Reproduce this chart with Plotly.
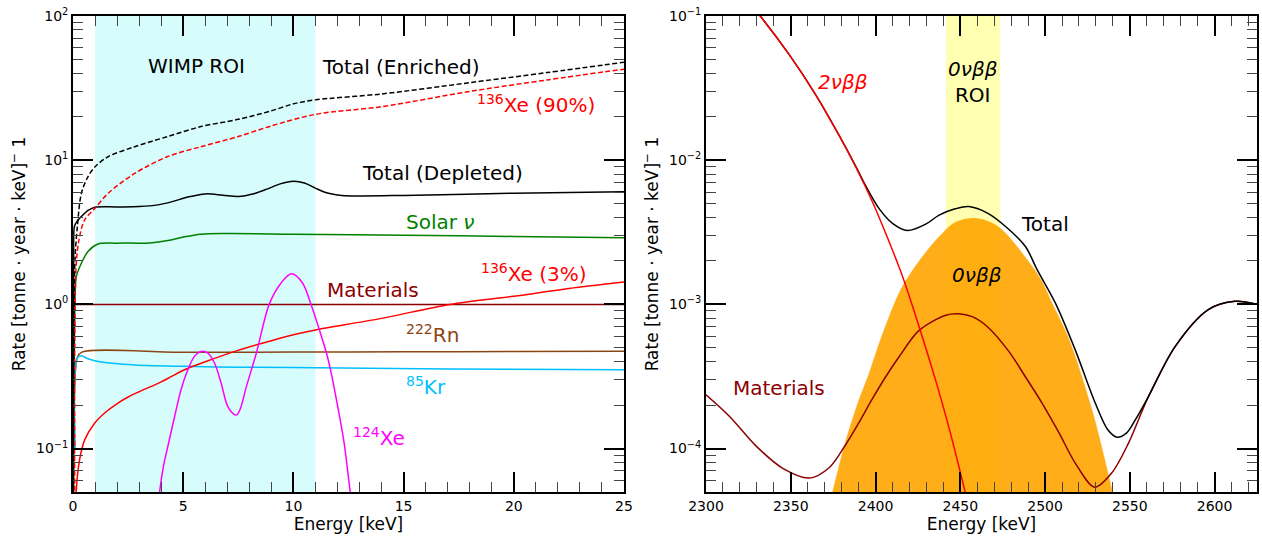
import math
import plotly.graph_objects as go

# ---------------- Left panel data (Energy in keV, rate in /tonne/year/keV) ----------------
wimp_roi = [1.0, 11.0]

enr_total_x = [0.0, 0.05, 0.1, 0.2, 0.38, 0.68, 1.0, 1.6, 2.8, 4.3, 5.8, 7.5, 9.0, 10.0, 11.0, 14.0, 18.0, 21.5, 25.0]
enr_total_y = [0.03, 1.0, 2.2, 3.5, 5.9, 7.7, 9.0, 10.6, 12.4, 14.6, 17.1, 19.2, 22.0, 24.6, 26.2, 28.8, 34.5, 40.5, 47.8]

xe136_90_x = [0.08, 0.15, 0.3, 0.53, 1.0, 1.6, 2.8, 4.3, 5.8, 7.5, 9.0, 11.0, 14.0, 18.0, 21.5, 25.0]
xe136_90_y = [0.04, 1.93, 2.96, 3.86, 4.65, 5.9, 8.1, 10.6, 12.4, 14.6, 17.3, 20.8, 23.5, 30.0, 36.0, 42.8]

dep_total_x = [0.0, 0.03, 0.07, 0.2, 0.38, 0.7, 1.0, 2.0, 3.0, 3.85, 4.5, 5.2, 6.0, 6.8, 7.5, 8.2, 8.8, 9.4, 10.0, 10.5, 11.0, 11.5, 12.2, 13.0, 15.0, 20.0, 25.0]
dep_total_y = [0.04, 2.0, 3.5, 3.8, 4.07, 4.5, 4.72, 4.74, 4.77, 4.9, 5.16, 5.55, 5.84, 5.72, 5.6, 5.85, 6.3, 6.85, 7.15, 6.95, 6.4, 5.95, 5.7, 5.65, 5.7, 5.9, 6.05]

solar_x = [0.03, 0.1, 0.15, 0.38, 0.68, 1.13, 2.0, 3.5, 4.3, 5.0, 5.8, 7.0, 10.0, 15.0, 20.0, 25.0]
solar_y = [0.04, 1.2, 1.56, 1.93, 2.33, 2.62, 2.66, 2.67, 2.77, 2.93, 3.07, 3.1, 3.07, 3.02, 2.96, 2.9]

materials_x = [0.0, 5.0, 10.0, 15.0, 20.0, 25.0]
materials_y = [1.0, 1.0, 1.0, 1.0, 1.0, 1.0]

xe136_3_x = [0.12, 0.15, 0.3, 0.53, 0.98, 1.5, 2.04, 2.5, 3.0, 3.55, 4.0, 4.5, 5.06, 6.0, 7.48, 9.0, 10.3, 11.0, 14.0, 17.1, 20.0, 22.5, 25.0]
xe136_3_y = [0.03, 0.052, 0.084, 0.115, 0.150, 0.18, 0.207, 0.228, 0.248, 0.27, 0.29, 0.318, 0.352, 0.40, 0.48, 0.56, 0.63, 0.665, 0.80, 1.0, 1.14, 1.29, 1.43]

rn222_x = [0.0, 0.05, 0.2, 0.4, 5.0, 10.0, 15.0, 20.0, 25.0]
rn222_y = [0.1, 0.21, 0.43, 0.467, 0.466, 0.467, 0.469, 0.471, 0.473]

kr85_x = [0.1, 0.2, 0.38, 0.68, 1.28, 2.8, 5.0, 7.5, 11.0, 17.0, 25.0]
kr85_y = [0.1, 0.425, 0.44, 0.42, 0.398, 0.38, 0.372, 0.367, 0.364, 0.357, 0.352]

xe124_x = [3.85, 3.93, 4.1, 4.3, 4.61, 4.9, 5.21, 5.51, 5.81, 6.12, 6.42, 6.72, 7.02, 7.33, 7.45, 7.6, 7.87, 8.32,
           8.9, 9.4, 9.9, 10.4, 10.8, 11.2, 11.5, 11.67, 12.0, 12.3, 12.58, 12.7]
xe124_y = [0.035, 0.05, 0.075, 0.103, 0.167, 0.256, 0.352, 0.436, 0.472, 0.46, 0.392, 0.285, 0.196, 0.172, 0.172, 0.19, 0.27, 0.46,
           1.0, 1.38, 1.63, 1.42, 1.0, 0.65, 0.46, 0.36, 0.2, 0.11, 0.05, 0.038]

# ---------------- Right panel data ----------------
onbb_roi = [2441.5, 2473.5]

twonbb_x = [2300, 2316, 2332, 2349.2, 2364.9, 2378.6, 2388.5, 2398.2, 2406.1, 2412, 2415.9, 2425.7, 2436.5, 2444, 2452, 2458]
twonbb_y = [0.265, 0.1675, 0.1, 0.0537, 0.0282, 0.0148, 0.0089, 0.00513, 0.00309, 0.00207, 0.00157, 7.0e-4, 2.7e-4, 1.3e-4, 5.5e-5, 2.8e-5]

total_r_x = [2300, 2316, 2332, 2349.2, 2364.9, 2378.6, 2388.5, 2394.3, 2402.2, 2410, 2418.8, 2429.6, 2437.5, 2447, 2455,
             2466, 2476.7, 2488.4, 2495.3, 2506.1, 2517.9, 2529.6, 2537, 2542.4, 2548, 2553.2, 2561, 2576.7, 2596.3, 2612, 2625]
total_r_y = [0.265, 0.1675, 0.1, 0.0537, 0.0282, 0.0148, 0.0090, 0.0066, 0.0046, 0.00365, 0.00325, 0.0036, 0.00416, 0.0046, 0.00477,
             0.0043, 0.00347, 0.00252, 0.00174, 0.00102, 4.8e-4, 2.07e-4, 1.35e-4, 1.2e-4, 1.28e-4, 1.58e-4, 2.3e-4, 5.1e-4, 9.2e-4, 1.05e-3, 1.0e-3]

mat_r_x = [2300, 2313.9, 2329.6, 2345.3, 2361, 2372.8, 2381.6, 2390, 2398, 2406, 2414, 2425.7, 2441.4, 2449, 2457, 2466,
           2478.6, 2488, 2498.2, 2508, 2517.9, 2529.2, 2539.4, 2549.2, 2561, 2576.7, 2596.3, 2612, 2625]
mat_r_y = [2.36e-4, 1.67e-4, 1.04e-4, 7.3e-5, 6.25e-5, 7.4e-5, 1.03e-4, 1.5e-4, 2.2e-4, 3.15e-4, 4.35e-4, 6.6e-4, 8.41e-4, 8.61e-4, 8.22e-4, 7.0e-4,
           4.72e-4, 3.2e-4, 2.07e-4, 1.3e-4, 7.9e-5, 5.4e-5, 6.8e-5, 1.09e-4, 2.3e-4, 5.1e-4, 9.2e-4, 1.05e-3, 1.0e-3]

onbb_x = [2368, 2374.7, 2381.6, 2388.5, 2396.3, 2404.1, 2415.9, 2431.6, 2445.3, 2451, 2457, 2463, 2470, 2476.7, 2489.4, 2497.3, 2504.1, 2513.9, 2527.6, 2539.8, 2546]
onbb_y = [2.5e-5, 5e-5, 1.04e-4, 1.9e-4, 3.34e-4, 6.2e-4, 1.33e-3, 2.45e-3, 3.6e-3, 3.85e-3, 3.96e-3, 3.88e-3, 3.6e-3, 3.12e-3, 2.04e-3, 1.5e-3, 1.02e-3, 5.8e-4, 1.86e-4, 5e-5, 2.5e-5]
zero_floor = 1e-9

left_xticks = [0, 5, 10, 15, 20, 25]
right_xticks = [2300, 2350, 2400, 2450, 2500, 2550, 2600]
left_yexp = [-1, 0, 1, 2]
right_yexp = [-4, -3, -2, -1]

FONT = "DejaVu Sans"
fig = go.Figure()

def line(x, y, color, xa, ya, dash="solid", width=1.5, name=""):
    fig.add_trace(go.Scatter(x=x, y=y, mode="lines", name=name, xaxis=xa, yaxis=ya,
                             line=dict(color=color, width=width, dash=dash, shape="spline", smoothing=0.9),
                             showlegend=False, hoverinfo="skip"))

# left
line(materials_x, materials_y, "darkred", "x", "y")
line(rn222_x, rn222_y, "saddlebrown", "x", "y")
line(kr85_x, kr85_y, "deepskyblue", "x", "y")
line(xe136_3_x, xe136_3_y, "red", "x", "y")
line(solar_x, solar_y, "green", "x", "y")
line(xe124_x, xe124_y, "magenta", "x", "y")
line(dep_total_x, dep_total_y, "black", "x", "y")
line(xe136_90_x, xe136_90_y, "red", "x", "y", dash="5px,2.5px")
line(enr_total_x, enr_total_y, "black", "x", "y", dash="5px,2.5px")

# right
fig.add_trace(go.Scatter(x=[onbb_x[0], onbb_x[-1]], y=[zero_floor, zero_floor], mode="lines",
                         line=dict(width=0, color="rgba(0,0,0,0)"), xaxis="x2", yaxis="y2",
                         showlegend=False, hoverinfo="skip"))
fig.add_trace(go.Scatter(x=onbb_x, y=onbb_y, mode="lines", fill="tonexty",
                         fillcolor="rgba(255,165,0,0.9)",
                         line=dict(width=0.5, color="rgba(255,165,0,0.9)", shape="spline", smoothing=0.9),
                         xaxis="x2", yaxis="y2", showlegend=False, hoverinfo="skip"))
line(mat_r_x, mat_r_y, "darkred", "x2", "y2")
line(total_r_x, total_r_y, "black", "x2", "y2")
line(twonbb_x, twonbb_y, "red", "x2", "y2")

# ROI bands
fig.add_shape(type="rect", x0=wimp_roi[0], x1=wimp_roi[1], xref="x", yref="y domain", y0=0, y1=1,
              fillcolor="rgba(0,238,238,0.16)", line_width=0, layer="below")
fig.add_shape(type="rect", x0=onbb_roi[0], x1=onbb_roi[1], xref="x2", yref="y2 domain", y0=0, y1=1,
              fillcolor="rgba(255,255,0,0.3)", line_width=0, layer="below")

def minor_vals(exps):
    vals = []
    for e in range(exps[0] - 1, exps[-1] + 1):
        for k in range(2, 10):
            vals.append(k * 10 ** e)
    return vals

axis_common = dict(showline=True, linecolor="black", linewidth=1.8, mirror="allticks",
                   ticks="inside", ticklen=20, tickwidth=1.6, tickcolor="black",
                   showgrid=False, zeroline=False, automargin=False,
                   tickfont=dict(family=FONT, size=14, color="black"))
minor_common = dict(ticks="inside", ticklen=10, tickwidth=1.2, tickcolor="#444")

L, R = 0.0, 551 / 1184
R2 = (706 - 73) / 1184

fig.update_layout(
    width=1262, height=536, autosize=False,
    margin=dict(l=73, r=5, t=16, b=44, autoexpand=False),
    paper_bgcolor="white", plot_bgcolor="white",
    font=dict(family=FONT, color="black"),
    xaxis=dict(domain=[L, R], range=[0, 25], tickmode="array", tickvals=left_xticks,
               ticktext=[str(v) for v in left_xticks],
               minor=dict(tickmode="linear", tick0=0, dtick=1, **minor_common),
               title=dict(text="Energy [keV]", font=dict(family=FONT, size=17), standoff=4),
               anchor="y", **axis_common),
    yaxis=dict(domain=[0, 1], type="log", range=[math.log10(0.05), 2], tickmode="array",
               tickvals=[10 ** e for e in left_yexp],
               ticktext=["10<sup>%s</sup>" % (str(e).replace("-", "−")) for e in left_yexp],
               minor=dict(tickmode="array", tickvals=minor_vals(left_yexp), **minor_common),
               title=dict(text="Rate [tonne · year · keV]<sup>−</sup> 1", font=dict(family=FONT, size=17), standoff=6),
               anchor="x", **axis_common),
    xaxis2=dict(domain=[R2, 1], range=[2300, 2625], tickmode="array", tickvals=right_xticks,
                ticktext=[str(v) for v in right_xticks],
                minor=dict(tickmode="linear", tick0=2300, dtick=10, **minor_common),
                title=dict(text="Energy [keV]", font=dict(family=FONT, size=17), standoff=4),
                anchor="y2", **axis_common),
    yaxis2=dict(domain=[0, 1], type="log", range=[math.log10(5e-5), -1], tickmode="array",
                tickvals=[10 ** e for e in right_yexp],
                ticktext=["10<sup>%s</sup>" % (str(e).replace("-", "−")) for e in right_yexp],
                minor=dict(tickmode="array", tickvals=minor_vals(right_yexp), **minor_common),
                title=dict(text="Rate [tonne · year · keV]<sup>−</sup> 1", font=dict(family=FONT, size=17), standoff=6),
                anchor="x2", **axis_common),
)

AF = 20
def ann(text, x, yval, color, xref, yref, xanchor="left", yanchor="middle", align="left"):
    fig.add_annotation(text=text, x=x, y=math.log10(yval), xref=xref, yref=yref, showarrow=False,
                       xanchor=xanchor, yanchor=yanchor, align=align,
                       font=dict(family=FONT, size=AF, color=color))

ann("WIMP ROI", 5.6, 44.7, "black", "x", "y", xanchor="center")
ann("Total (Enriched)", 11.19, 44.5, "black", "x", "y")
ann("<sup>136</sup>Xe (90%)", 18.25, 24.5, "red", "x", "y")
ann("Total (Depleted)", 13.0, 8.13, "black", "x", "y")
ann("Solar <i>ν</i>", 15.0, 3.75, "green", "x", "y")
ann("<sup>136</sup>Xe (3%)", 18.44, 1.65, "red", "x", "y")
ann("Materials", 11.42, 1.25, "darkred", "x", "y")
ann("<sup>222</sup>Rn", 15.0, 0.62, "saddlebrown", "x", "y")
ann("<sup>85</sup>Kr", 15.0, 0.272, "deepskyblue", "x", "y")
ann("<sup>124</sup>Xe", 12.63, 0.12, "magenta", "x", "y")

ann("<i>2νββ</i>", 2365.1, 0.0351, "red", "x2", "y2")
ann("<i>0νββ</i><br>ROI", 2457.5, 0.0351, "black", "x2", "y2", xanchor="center", align="center")
ann("Total", 2484.5, 3.62e-3, "black", "x2", "y2")
ann("<i>0νββ</i>", 2459.6, 1.6e-3, "black", "x2", "y2", xanchor="center")
ann("Materials", 2314.9, 2.63e-4, "darkred", "x2", "y2")

fig.write_html("out.html",
               config={"displayModeBar": False, "responsive": False},
               post_script="document.body.style.margin='0px';document.body.style.overflow='hidden';"
                           "document.documentElement.style.overflow='hidden';")
